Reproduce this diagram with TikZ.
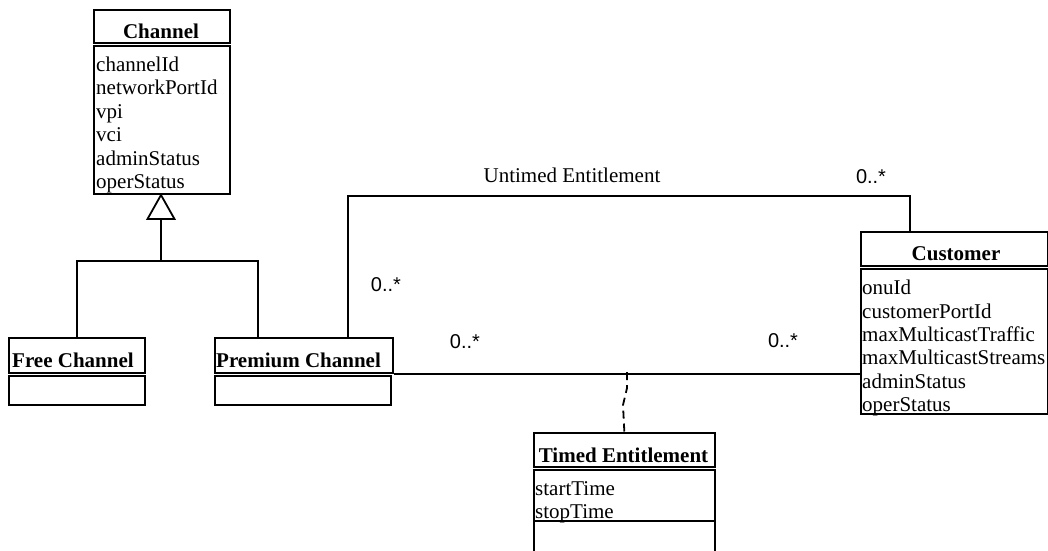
\documentclass[tikz,border=0pt]{standalone}
\usepackage{fontspec}
\setmainfont{Liberation Serif}
\newfontfamily\multfont{Liberation Sans}
\begin{document}
\begin{tikzpicture}[x=1pt,y=-1pt,
  box/.style={draw, line width=1.7pt, inner sep=0pt, anchor=north west},
  cname/.style={font=\fontsize{21}{23}\selectfont\bfseries, inner sep=0pt},
  attr/.style={font=\fontsize{21}{23}\selectfont, inner sep=0pt, anchor=base west},
  mult/.style={font=\multfont\fontsize{20}{22}\selectfont, inner sep=0pt},
  assoc/.style={font=\fontsize{21}{23}\selectfont, inner sep=0pt},
  link/.style={line width=1.8pt},
  depend/.style={line width=1.8pt, dash pattern=on 8pt off 5pt}]

\clip (0,0) rectangle (1048,550);

% Channel
\node[box, minimum width=136pt, minimum height=33pt] (chH) at (93,9) {};
\node[box, minimum width=136pt, minimum height=148pt] (chA) at (93,45) {};
\node[cname, anchor=base] (chT) at (161,38) {Channel};
\foreach \t [count=\i from 0] in {channelId,networkPortId,vpi,vci,adminStatus,operStatus}
  \node[attr] (chL\i) at (96,71.5+23.4*\i) {\t};

% Free Channel
\node[box, minimum width=136pt, minimum height=35pt] (freeH) at (8,337) {};
\node[box, minimum width=136pt, minimum height=29pt] (freeA) at (8,375) {};
\node[cname, anchor=base west] (freeT) at (12,367) {Free Channel};

% Premium Channel
\node[box, minimum width=178pt, minimum height=35pt] (premH) at (214,337) {};
\node[box, minimum width=176pt, minimum height=29pt] (premA) at (214,375) {};
\node[cname, anchor=base west] (premT) at (216,367) {Premium Channel};

% Customer
\node[box, minimum width=187pt, minimum height=34pt] (custH) at (860,231) {};
\node[box, minimum width=187pt, minimum height=145pt] (custA) at (860,268) {};
\node[cname, anchor=base] (custT) at (956,260) {Customer};
\foreach \t [count=\i from 0] in {onuId,customerPortId,maxMulticastTraffic,maxMulticastStreams,adminStatus,operStatus}
  \node[attr] (cuL\i) at (862,294.7+23.4*\i) {\t};

% Timed Entitlement
\node[box, minimum width=181pt, minimum height=34pt] (timH) at (533,432) {};
\node[box, minimum width=181pt, minimum height=51pt] (timA) at (533,469) {};
\node[box, minimum width=181pt, minimum height=40pt] (timO) at (533,520) {};
\node[cname, anchor=base] (timT) at (623.5,462) {Timed Entitlement};
\foreach \t [count=\i from 0] in {startTime,stopTime}
  \node[attr] (tiL\i) at (535,495+23.4*\i) {\t};

% Generalisation: Free and Premium Channel specialise Channel
\coordinate (tip) at (161,195);
\coordinate (triB) at (161,219);
\coordinate (gJ) at (161,261);
\coordinate (gP) at (258,0);
\draw[link] (freeH.north) |- (gJ) -| (gP |- premH.north);
\draw[link] (triB) -- (gJ);
\draw[link, fill=white] (tip) -- ++(-13.5,24) -- ++(27,0) -- cycle;

% Untimed Entitlement association
\coordinate (uL) at (348,196);
\coordinate (uR) at (910,196);
\draw[link] (uL |- premH.north) -- (uL) -- (uR) -- (uR |- custH.north);
\node[assoc] (uLab) at (572,175) {Untimed Entitlement};
\node[mult] (mUR) at (871,177) {0..*};
\node[mult] (mUL) at (386,285) {0..*};

% Timed Entitlement association with its association class
\draw[link] (premH.south east) -- (premH.south east -| custA.west);
\coordinate (aM) at (627,372);
\draw[depend] (aM) -- ++(0,16) -- ++(-4,17) -- (timH.north);
\node[mult] (mTL) at (465,342) {0..*};
\node[mult] (mTR) at (783,341) {0..*};
\end{tikzpicture}
\end{document}
